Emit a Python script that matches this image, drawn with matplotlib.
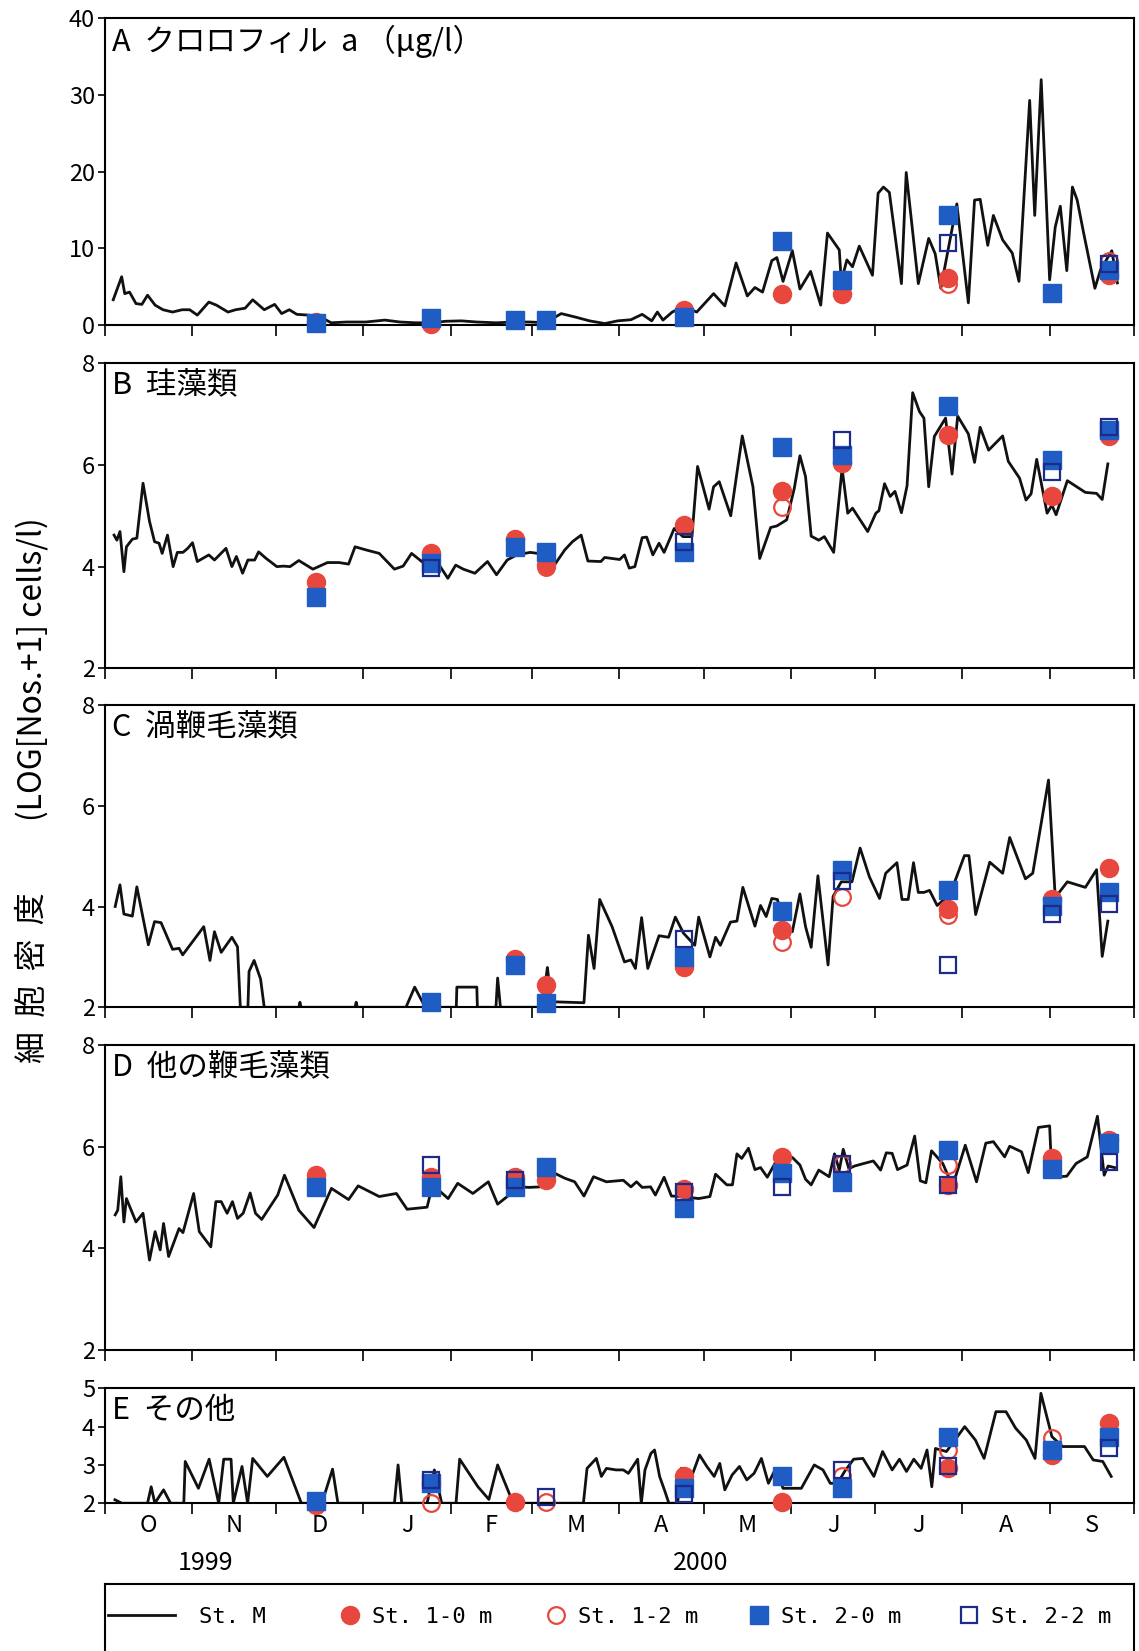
import numpy as np
import matplotlib
matplotlib.use("Agg")
import matplotlib.pyplot as plt
from matplotlib.lines import Line2D

nan = np.nan

# ---- St. M record, x = days since 1 Oct 1999 ---------------------------- #
chl_day = [3.0, 4.3, 6.0, 7.1, 8.8, 11.1, 13.2, 15.2, 17.9, 20.7, 24.1, 27.5, 30.2, 32.9, 37.0,
           39.7, 43.8, 46.5, 49.9, 52.6, 56.7, 60.4, 62.9, 65.6, 68.3, 72.4, 76.5, 80.5, 86.0,
           92.8, 99.6, 105.0, 110.5, 115.9, 121.4, 126.8, 132.3, 139.1, 145.9, 151.3, 156.8,
           162.3, 167.3, 172.4, 177.8, 182.4, 187.1, 191.1, 194.5, 196.5, 198.5, 201.8, 205.8,
           210.5, 216.5, 220.5, 224.5, 228.5, 231.2, 233.9, 237.2, 239.0, 241.2, 244.5, 247.2,
           251.0, 254.6, 257.0, 261.2, 261.9, 263.9, 265.9, 268.3, 273.0, 275.0, 276.9, 279.0,
           283.3, 285.0, 289.3, 293.0, 295.3, 297.3, 303.0, 307.1, 309.3, 311.3, 314.0, 316.0,
           319.3, 322.7, 325.1, 328.9, 330.7, 333.0, 336.0, 338.0, 339.8, 342.1, 344.1, 345.8,
           348.1, 352.1, 354.1, 358.1, 360.1]
chl_val = [3.3, 4.6, 6.3, 4.1, 4.3, 2.8, 2.7, 3.9, 2.6, 2.0, 1.7, 2.0, 2.0, 1.3, 3.0,
           2.6, 1.7, 2.0, 2.2, 3.3, 2.0, 2.7, 1.5, 2.0, 1.4, 1.3, 1.1, 0.3, 0.4,
           0.4, 0.65, 0.4, 0.3, 0.3, 0.5, 0.55, 0.4, 0.3, 0.4, 0.4, 0.3,
           1.5, 1.05, 0.55, 0.2, 0.55, 0.7, 1.4, 0.55, 1.7, 0.65, 1.7, 2.4,
           1.7, 4.1, 2.5, 8.1, 3.8, 4.9, 4.3, 8.4, 8.8, 5.7, 9.7, 4.7,
           7.0, 2.6, 12.0, 9.8, 5.7, 8.5, 7.6, 10.3, 6.5, 17.2, 18.0, 17.3,
           5.4, 19.9, 5.4, 11.3, 9.3, 4.8, 15.8, 2.9, 16.3, 16.4, 10.4, 14.3,
           11.1, 9.4, 5.7, 29.3, 14.3, 32.0, 5.9, 12.8, 15.5, 7.1, 18.0, 16.3,
           12.0, 4.8, 7.2, 9.7, 5.5]

diatom_day = [3.3, 4.3, 5.4, 6.8, 7.7, 9.8, 11.4, 13.6, 15.9, 17.7, 19.3, 20.4, 22.3, 24.3, 25.8,
              27.8, 29.5, 31.2, 32.9, 37.0, 39.0, 43.1, 45.2, 46.8, 49.0, 50.9, 53.3, 54.7, 57.4,
              61.2, 63.5, 65.9, 69.0, 74.0, 79.2, 83.3, 86.7, 89.0, 92.8, 97.6, 103.0, 106.1,
              109.1, 113.2, 116.6, 119.3, 122.0, 124.8, 127.5, 131.6, 136.1, 139.3, 143.1, 146.5,
              151.3, 154.0, 159.5, 163.6, 166.3, 169.4, 171.8, 176.4, 177.8, 183.1, 184.8, 186.5,
              188.5, 191.1, 192.7, 194.9, 197.1, 198.9, 202.5, 205.6, 208.8, 210.8, 214.9, 216.5,
              218.5, 222.6, 226.7, 230.5, 232.9, 236.8, 239.0, 242.5, 245.2, 247.2, 249.2, 251.2,
              253.9, 255.9, 259.2, 262.2, 264.2, 265.9, 271.3, 274.2, 275.3, 277.3, 279.3, 281.0,
              283.3, 285.3, 287.3, 289.7, 291.3, 293.0, 295.0, 299.0, 301.3, 303.3, 307.1, 309.3,
              311.3, 314.3, 319.3, 321.3, 325.3, 327.6, 329.4, 331.4, 335.1, 336.8, 338.3, 342.3,
              348.7, 352.7, 354.7, 356.7]
diatom_val = [4.62, 4.52, 4.69, 3.90, 4.39, 4.54, 4.56, 5.64, 4.89, 4.49, 4.46, 4.26, 4.62, 4.00, 4.28,
              4.28, 4.36, 4.47, 4.10, 4.23, 4.13, 4.36, 4.00, 4.20, 3.87, 4.13, 4.13, 4.29, 4.16,
              4.00, 4.01, 4.00, 4.12, 3.95, 4.08, 4.08, 4.05, 4.39, 4.33, 4.26, 3.95, 4.01,
              4.26, 4.08, 3.93, 4.00, 3.77, 4.03, 3.95, 3.87, 4.10, 3.84, 4.13, 4.23,
              4.28, 4.26, 4.00, 4.33, 4.49, 4.62, 4.11, 4.10, 4.18, 4.14, 4.23, 3.97,
              4.00, 4.57, 4.58, 4.23, 4.46, 4.28, 4.75, 4.59, 4.59, 5.97, 5.13, 5.57,
              5.67, 5.00, 6.57, 5.57, 4.16, 4.77, 4.80, 4.92, 5.54, 6.18, 5.77, 4.60,
              4.52, 4.59, 4.28, 5.93, 5.05, 5.15, 4.69, 5.05, 5.10, 5.63, 5.38, 5.48,
              5.06, 5.59, 7.42, 7.05, 6.92, 5.57, 6.56, 6.92, 5.82, 6.96, 6.61, 6.05,
              6.74, 6.29, 6.57, 6.07, 5.74, 5.31, 5.43, 6.11, 5.05, 5.21, 5.02, 5.69,
              5.46, 5.44, 5.32, 6.02]

dino_day = [3.7, 5.4, 6.8, 9.8, 11.4, 15.5, 17.7, 20.0, 24.1, 26.4, 27.7, 35.2, 37.4, 39.0, 41.4,
            45.2, 47.2, 48.2, 50.9, 51.3, 53.1, 55.4, 56.7, 69.0, 69.4, 69.8, 89.0, 89.4, 89.8,
            107.1, 110.2, 113.2, 115.0, 125.0, 125.2, 132.3, 132.5, 139.1, 139.7, 140.7, 155.5,
            157.4, 158.8, 170.4, 172.0, 174.0, 176.0, 180.4, 184.8, 187.1, 188.7, 190.9, 193.1,
            197.1, 200.5, 202.9, 205.8, 209.8, 211.2, 215.2, 217.2, 218.9, 222.5, 224.8, 226.9,
            231.2, 233.2, 235.2, 237.2, 239.2, 241.6, 244.5, 247.2, 249.2, 251.2, 253.6, 257.2,
            259.0, 261.9, 265.7, 268.6, 271.9, 275.5, 277.7, 281.7, 283.5, 285.7, 287.6, 289.3,
            291.3, 293.3, 296.0, 300.6, 305.7, 307.3, 309.7, 314.7, 319.3, 321.8, 327.4, 330.0,
            335.6, 338.0, 342.3, 348.7, 352.7, 354.7, 356.7]
dino_val = [4.00, 4.43, 3.85, 3.81, 4.39, 3.24, 3.70, 3.68, 3.15, 3.17, 3.04, 3.60, 2.93, 3.50, 3.09,
            3.39, 3.20, 2.00, 2.00, 2.71, 2.93, 2.56, 2.00, 2.00, 2.10, 2.00, 2.00, 2.10, 2.00,
            2.00, 2.40, 2.08, 2.00, 2.00, 2.40, 2.40, 2.00, 2.00, 2.58, 2.00, 2.00,
            2.79, 2.11, 2.09, 3.43, 2.77, 4.14, 3.60, 2.90, 2.94, 2.77, 3.78, 2.77,
            3.42, 3.39, 3.79, 3.47, 3.23, 3.79, 3.00, 3.39, 3.23, 3.69, 3.71, 4.38,
            3.61, 4.02, 3.80, 4.16, 4.14, 3.63, 3.50, 4.25, 3.60, 3.19, 4.61, 2.84,
            4.20, 4.49, 4.49, 5.16, 4.59, 4.16, 4.66, 4.87, 4.14, 4.14, 4.87, 4.28,
            4.28, 4.32, 4.02, 4.24, 5.01, 5.01, 3.84, 4.88, 4.66, 5.37, 4.55, 4.66,
            6.51, 4.18, 4.49, 4.38, 4.73, 3.01, 3.71]

flag_day = [3.7, 4.6, 5.7, 6.8, 7.7, 11.1, 13.6, 15.9, 17.9, 19.7, 20.9, 22.7, 26.4, 27.8, 31.6,
            33.6, 37.7, 39.5, 41.4, 43.5, 45.4, 47.2, 49.2, 51.7, 53.6, 55.8, 61.5, 63.9, 69.0,
            74.4, 80.6, 86.7, 90.1, 97.6, 103.7, 107.5, 114.6, 116.6, 122.1, 125.5, 130.9,
            136.4, 139.7, 143.8, 146.5, 151.0, 154.7, 158.1, 163.6, 167.1, 170.4, 173.8, 178.4,
            184.4, 187.1, 189.1, 191.1, 194.1, 195.8, 198.9, 201.5, 205.2, 211.2, 215.2, 217.2,
            221.2, 223.2, 224.8, 226.5, 228.9, 231.2, 233.2, 235.6, 238.5, 244.5, 247.2, 249.2,
            251.2, 253.9, 257.6, 259.5, 261.2, 262.6, 264.6, 266.6, 269.9, 273.3, 275.9, 277.9,
            280.0, 281.9, 285.3, 288.0, 290.0, 292.0, 294.0, 298.0, 300.6, 302.6, 306.0, 310.0,
            313.3, 316.0, 320.0, 321.8, 326.0, 328.4, 332.0, 336.0, 336.7, 339.1, 342.1, 345.4,
            349.4, 353.0, 355.4, 356.8, 359.1]
flag_val = [4.66, 4.75, 5.41, 4.52, 4.98, 4.52, 4.69, 3.77, 4.33, 3.97, 4.49, 3.84, 4.39, 4.31, 5.08,
            4.33, 4.03, 4.92, 4.92, 4.69, 4.92, 4.59, 4.69, 5.09, 4.69, 4.57, 5.05, 5.44, 4.75,
            4.41, 5.18, 4.96, 5.23, 5.02, 5.08, 4.77, 4.81, 5.25, 4.98, 5.28, 5.08,
            5.31, 4.87, 5.05, 5.21, 5.20, 5.21, 5.53, 5.38, 5.31, 5.03, 5.41, 5.31,
            5.34, 5.21, 5.31, 5.20, 5.21, 5.05, 5.40, 5.03, 5.02, 4.98, 5.02, 5.46,
            5.25, 5.25, 5.86, 5.77, 5.97, 5.55, 5.59, 5.40, 5.69, 5.79, 5.64, 5.36,
            5.25, 5.54, 5.41, 5.86, 5.54, 5.95, 5.57, 5.62, 5.67, 5.72, 5.54, 5.88,
            5.87, 5.55, 5.64, 6.21, 5.33, 5.29, 5.92, 5.67, 5.34, 5.42, 6.03, 5.31,
            6.07, 6.10, 5.80, 6.01, 5.90, 5.49, 6.38, 6.41, 5.54, 5.41, 5.42, 5.67,
            5.80, 6.60, 5.44, 5.62, 5.59]

other_day = [3.6, 6.1, 15.2, 16.5, 17.8, 20.9, 23.4, 28.1, 28.6, 33.3, 37.1, 40.5, 42.3, 44.9, 45.7,
             48.8, 50.8, 52.6, 57.8, 63.7, 69.9, 77.2, 81.0, 82.9, 103.0, 104.3, 105.6, 114.6,
             117.2, 119.8, 124.9, 126.2, 132.7, 136.6, 139.7, 144.3, 146.9, 170.2, 171.5, 174.8,
             176.6, 178.4, 181.8, 184.4, 186.2, 189.5, 190.8, 192.1, 194.2, 195.5, 197.3, 199.1,
             200.6, 203.7, 205.0, 207.6, 208.9, 211.5, 214.1, 216.7, 218.7, 220.5, 223.1, 225.7,
             228.3, 230.9, 233.5, 236.0, 238.6, 241.2, 247.7, 252.3, 255.4, 258.0, 260.6, 263.1,
             266.3, 269.6, 273.5, 276.6, 280.0, 282.6, 285.1, 287.7, 290.3, 292.4, 294.1, 295.4,
             299.3, 305.8, 309.6, 312.7, 316.9, 320.5, 323.9, 327.7, 330.8, 332.9, 336.8, 340.6,
             344.5, 348.4, 351.5, 354.9, 357.9]
other_val = [2.09, 2.0, 2.0, 2.43, 2.0, 2.35, 2.0, 2.0, 3.09, 2.39, 3.15, 2.0, 3.15, 3.15, 2.0,
             2.96, 2.0, 3.17, 2.70, 3.20, 2.0, 2.0, 2.89, 2.0, 2.0, 3.0, 2.0, 2.0,
             2.87, 2.0, 2.0, 3.15, 2.43, 2.10, 3.0, 2.17, 2.0, 2.0, 2.91, 3.17,
             2.70, 2.91, 2.87, 2.87, 2.78, 3.15, 2.0, 2.87, 3.30, 3.39, 2.70, 2.33,
             2.0, 2.0, 2.91, 2.87, 2.74, 3.26, 2.96, 2.70, 3.04, 2.35, 2.74, 2.96,
             2.61, 2.78, 3.17, 2.52, 2.91, 2.39, 2.39, 3.0, 2.87, 2.52, 2.52, 2.83,
             3.15, 3.17, 2.70, 3.35, 2.87, 3.15, 2.83, 3.15, 2.91, 3.39, 2.43, 3.43,
             3.35, 4.0, 3.65, 3.17, 4.39, 4.39, 3.96, 3.65, 3.17, 4.87, 3.74, 3.48,
             3.48, 3.48, 3.13, 3.09, 2.70]

# ---- station samplings (same days for every panel) ---------------------- #
sample_day = [75, 116, 146, 157, 206, 241, 262, 300, 337, 357]

chl_st1_0 = [0.4, 0.2, nan, nan, 2.0, 4.1, 4.1, 6.1, nan, 6.5]
chl_st1_2 = [nan, nan, nan, nan, nan, nan, nan, 5.4, nan, 8.3]
chl_st2_0 = [0.3, 0.9, 0.65, 0.65, 1.0, 10.9, 5.9, 14.3, 4.2, 7.2]
chl_st2_2 = [nan, nan, nan, nan, nan, nan, nan, 10.7, nan, 8.0]

diatom_st1_0 = [3.70, 4.26, 4.54, 4.03, 4.82, 5.48, 6.03, 6.59, 5.38, 6.56]
diatom_st1_2 = [nan, nan, nan, 4.0, nan, 5.18, 6.03, nan, nan, nan]
diatom_st2_0 = [3.41, 4.07, 4.39, 4.29, 4.29, 6.36, 6.20, 7.15, 6.09, 6.69]
diatom_st2_2 = [nan, 3.98, nan, nan, 4.49, nan, 6.49, nan, 5.87, 6.75]

dino_st1_0 = [nan, nan, 2.95, 2.44, 2.80, 3.53, nan, 3.95, 4.15, 4.76]
dino_st1_2 = [nan, nan, nan, nan, nan, 3.30, 4.18, 3.83, nan, nan]
dino_st2_0 = [nan, 2.11, 2.84, 2.08, 3.0, 3.92, 4.72, 4.33, 4.02, 4.28]
dino_st2_2 = [nan, nan, nan, nan, 3.36, nan, 4.5, 2.83, 3.85, 4.05]

flag_st1_0 = [5.44, 5.41, 5.41, 5.34, 5.16, 5.80, nan, 5.25, 5.77, 6.13]
flag_st1_2 = [nan, nan, nan, 5.38, nan, nan, 5.67, 5.64, nan, nan]
flag_st2_0 = [5.21, 5.21, 5.21, 5.61, 4.80, 5.48, 5.31, 5.93, 5.57, 6.07]
flag_st2_2 = [nan, 5.64, 5.35, nan, 5.10, 5.21, 5.67, 5.25, nan, 5.70]

other_st1_0 = [1.95, 2.52, 2.04, nan, 2.7, 2.04, nan, 2.91, 3.26, 4.09]
other_st1_2 = [nan, 2.0, nan, 2.04, nan, nan, 2.71, 3.39, 3.70, nan]
other_st2_0 = [2.05, 2.52, nan, nan, 2.4, 2.70, 2.39, 3.74, 3.39, 3.74]
other_st2_2 = [nan, 2.6, nan, 2.17, 2.25, nan, 2.87, 2.96, nan, 3.43]

MONTH_LABELS = ["O", "N", "D", "J", "F", "M", "A", "M", "J", "J", "A", "S"]
LEGEND_LABELS = ["St. M", "St. 1-0 m", "St. 1-2 m", "St. 2-0 m", "St. 2-2 m"]

RED = "#e8473d"
BLUE = "#1f5cc4"
NAVY = "#1c2a8a"
INK = "#111111"

plt.rcParams.update({
    "font.family": ["Noto Sans CJK JP", "DejaVu Sans"],
    "axes.linewidth": 1.5,
    "xtick.major.width": 1.2, "ytick.major.width": 1.2,
    "xtick.direction": "out", "ytick.direction": "out",
})

# (label, ylim, yticks, line, 1-0, 1-2, 2-0, 2-2, axes rect)
panels = [
    ("A  クロロフィル  a （μg/l）", (0, 40), [0, 10, 20, 30, 40], (chl_day, chl_val),
     chl_st1_0, chl_st1_2, chl_st2_0, chl_st2_2, [0.092, 0.8031, 0.9036, 0.1858]),
    ("B  珪藻類", (2, 8), [2, 4, 6, 8], (diatom_day, diatom_val),
     diatom_st1_0, diatom_st1_2, diatom_st2_0, diatom_st2_2, [0.092, 0.5952, 0.9036, 0.1848]),
    ("C  渦鞭毛藻類", (2, 8), [2, 4, 6, 8], (dino_day, dino_val),
     dino_st1_0, dino_st1_2, dino_st2_0, dino_st2_2, [0.092, 0.3899, 0.9036, 0.1831]),
    ("D  他の鞭毛藻類", (2, 8), [2, 4, 6, 8], (flag_day, flag_val),
     flag_st1_0, flag_st1_2, flag_st2_0, flag_st2_2, [0.092, 0.1823, 0.9036, 0.1847]),
    ("E  その他", (2, 5), [2, 3, 4, 5], (other_day, other_val),
     other_st1_0, other_st1_2, other_st2_0, other_st2_2, [0.092, 0.0895, 0.9036, 0.0696]),
]

start = np.datetime64("1999-10-01")
month_starts = (np.arange("1999-10", "2000-11", dtype="datetime64[M]").astype("datetime64[D]")
                - start).astype(int)
month_mids = (month_starts[:-1] + month_starts[1:]) / 2

STYLES = [
    dict(ls="none", marker="o", ms=13, mfc=RED, mec=RED),
    dict(ls="none", marker="o", ms=12, mfc="none", mec=RED, mew=1.6),
    dict(ls="none", marker="s", ms=13, mfc=BLUE, mec=BLUE),
    dict(ls="none", marker="s", ms=12, mfc="none", mec=NAVY, mew=1.6),
]

fig = plt.figure(figsize=(11.39, 16.51), dpi=100)

for i, (label, ylim, yticks, line, s10, s12, s20, s22, rect) in enumerate(panels):
    ax = fig.add_axes(rect)
    ax.plot(line[0], line[1], color=INK, lw=2.0, zorder=2)
    for z, (vals, style) in enumerate(zip((s10, s12, s20, s22), STYLES)):
        ax.plot(sample_day, vals, zorder=3 + z, clip_on=False, **style)

    ax.set_xlim(month_starts[0], month_starts[-1])
    ax.set_ylim(*ylim)
    ax.set_yticks(yticks)
    ax.set_xticks(month_starts)
    ax.tick_params(axis="y", length=5, labelsize=17, pad=2)
    ax.tick_params(axis="x", which="major", length=8, labelbottom=False)
    if i == len(panels) - 1:
        ax.set_xticks(month_mids, minor=True)
        ax.set_xticklabels(MONTH_LABELS, minor=True)
        ax.tick_params(axis="x", which="minor", length=0, labelsize=17, pad=8)

    ax.annotate(label, xy=(0, 1), xycoords="axes fraction", xytext=(5, -5),
                textcoords="offset points", ha="left", va="top", fontsize=22)

# year labels under the month axis
fig.text(206 / 1139, 1 - 1563 / 1651, "1999", ha="center", va="center", fontsize=18)
fig.text(701 / 1139, 1 - 1563 / 1651, "2000", ha="center", va="center", fontsize=18)

fig.text(0.028, 0.5215, "細  胞  密  度　　 (LOG[Nos.+1] cells/l)", rotation=90,
         ha="center", va="center", fontsize=23)

# legend box runs off the bottom of the page
lax = fig.add_axes([0.092, -0.05, 0.9036, 0.0903])
lax.set_xticks([]); lax.set_yticks([])
handles = [Line2D([], [], color=INK, lw=2.0)] + [Line2D([], [], **s) for s in STYLES]
# one small legend per entry so the entries sit where they do in the original
entry_left = [108, 334, 540, 743, 953]
for x0, h, lab in zip(entry_left, handles, LEGEND_LABELS):
    fig.legend([h], [lab], loc="center left", bbox_to_anchor=(x0 / 1139, 1 - 1617 / 1651),
               frameon=False, handlelength=3.0 if lab == "St. M" else 1.4,
               handletextpad=1.1 if lab == "St. M" else 0.3, borderpad=0, borderaxespad=0,
               prop={"family": "DejaVu Sans Mono", "size": 16})

fig.savefig("out.png", dpi=100)
